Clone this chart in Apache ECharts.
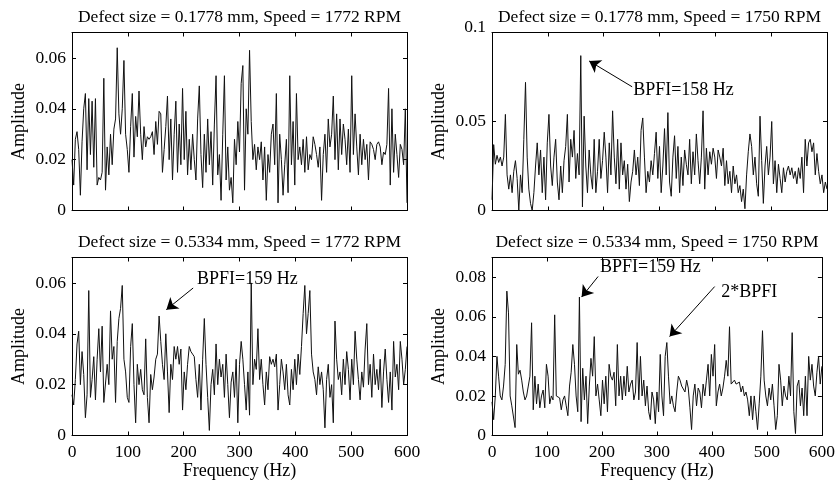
<!DOCTYPE html>
<html><head><meta charset="utf-8">
<script src="https://cdn.jsdelivr.net/npm/echarts@6/dist/echarts.min.js"></script>
<style>html,body{margin:0;padding:0;background:#fff}#c{width:838px;height:488px}</style>
</head><body><div id="c"></div>
<script>
// ---- data ----
const STEP = 3; // Hz between samples
const freqMin = 0, freqMax = 600, freqInterval = 100;
const titles = [
  'Defect size = 0.1778 mm, Speed = 1772 RPM',
  'Defect size = 0.1778 mm, Speed = 1750 RPM',
  'Defect size = 0.5334 mm, Speed = 1772 RPM',
  'Defect size = 0.5334 mm, Speed = 1750 RPM'
];
const yMax = [0.07, 0.1, 0.07, 0.09];
const yInterval = [0.02, 0.05, 0.02, 0.02];
const xLabel = 'Frequency (Hz)';
const yLabel = 'Amplitude';

const amp1 = [
 0.020,0.010,0.028,0.031,0.024,0.006,0.027,0.040,0.046,0.016,
 0.044,0.022,0.043,0.017,0.044,0.010,0.013,0.012,0.015,0.052,
 0.008,0.025,0.014,0.030,0.018,0.032,0.036,0.064,0.038,0.030,
 0.040,0.059,0.030,0.024,0.015,0.033,0.046,0.021,0.037,0.029,
 0.047,0.030,0.020,0.033,0.025,0.029,0.028,0.029,0.031,0.022,
 0.035,0.026,0.039,0.038,0.015,0.024,0.033,0.045,0.020,0.036,
 0.012,0.030,0.043,0.015,0.034,0.018,0.048,0.020,0.039,0.014,
 0.028,0.016,0.030,0.020,0.012,0.036,0.049,0.022,0.009,0.030,
 0.015,0.036,0.018,0.031,0.010,0.034,0.053,0.014,0.022,0.004,
 0.030,0.053,0.012,0.025,0.008,0.013,0.003,0.028,0.018,0.035,
 0.023,0.050,0.057,0.008,0.040,0.030,0.063,0.035,0.020,0.026,
 0.016,0.025,0.020,0.027,0.012,0.025,0.004,0.022,0.015,0.030,
 0.034,0.018,0.046,0.003,0.030,0.020,0.006,0.018,0.028,0.007,
 0.053,0.018,0.035,0.010,0.046,0.020,0.025,0.018,0.028,0.015,
 0.029,0.016,0.022,0.020,0.029,0.026,0.022,0.017,0.025,0.004,
 0.022,0.030,0.015,0.036,0.025,0.030,0.045,0.020,0.038,0.016,
 0.036,0.022,0.034,0.028,0.018,0.032,0.015,0.053,0.022,0.038,
 0.025,0.014,0.030,0.018,0.028,0.020,0.026,0.012,0.027,0.026,
 0.024,0.020,0.026,0.027,0.025,0.018,0.023,0.022,0.026,0.048,
 0.010,0.040,0.015,0.030,0.022,0.013,0.026,0.024,0.018,0.040,
 0.003];

const amp2 = [
 0.006,0.037,0.026,0.031,0.027,0.030,0.025,0.030,0.054,0.020,
 0.012,0.020,0.010,0.022,0.028,0.018,0.000,0.020,0.010,0.040,
 0.072,0.030,0.012,0.004,0.000,0.010,0.025,0.038,0.020,0.034,
 0.010,0.030,0.006,0.038,0.054,0.025,0.014,0.030,0.040,0.016,
 0.006,0.025,0.010,0.028,0.036,0.054,0.016,0.040,0.030,0.045,
 0.018,0.032,0.020,0.087,0.002,0.053,0.025,0.010,0.034,0.020,
 0.012,0.040,0.010,0.022,0.040,0.018,0.028,0.044,0.030,0.010,
 0.038,0.020,0.056,0.030,0.015,0.040,0.012,0.038,0.020,0.028,
 0.012,0.026,0.005,0.016,0.022,0.034,0.020,0.030,0.014,0.045,
 0.052,0.030,0.010,0.022,0.016,0.028,0.020,0.032,0.044,0.018,
 0.036,0.010,0.025,0.046,0.020,0.055,0.016,0.008,0.030,0.042,
 0.018,0.036,0.010,0.030,0.014,0.034,0.026,0.020,0.040,0.015,
 0.033,0.020,0.043,0.028,0.015,0.030,0.056,0.012,0.035,0.020,
 0.033,0.026,0.035,0.030,0.018,0.034,0.030,0.025,0.035,0.014,
 0.028,0.015,0.022,0.010,0.025,0.015,0.020,0.010,0.014,0.005,
 0.012,0.001,0.020,0.033,0.043,0.036,0.020,0.030,0.015,0.008,
 0.053,0.028,0.004,0.025,0.036,0.020,0.030,0.050,0.015,0.028,
 0.010,0.026,0.018,0.010,0.024,0.016,0.022,0.025,0.020,0.024,
 0.018,0.022,0.015,0.024,0.018,0.030,0.010,0.040,0.025,0.038,
 0.040,0.033,0.038,0.020,0.032,0.022,0.015,0.020,0.010,0.016,
 0.012];

const amp3 = [
 0.016,0.012,0.022,0.036,0.041,0.020,0.033,0.024,0.007,0.016,
 0.057,0.015,0.022,0.031,0.014,0.030,0.042,0.025,0.043,0.013,
 0.013,0.028,0.020,0.049,0.030,0.035,0.013,0.037,0.046,0.050,
 0.059,0.030,0.025,0.015,0.013,0.035,0.044,0.020,0.005,0.028,
 0.020,0.026,0.018,0.016,0.038,0.015,0.005,0.024,0.018,0.023,
 0.030,0.032,0.047,0.037,0.028,0.022,0.040,0.025,0.009,0.028,
 0.022,0.035,0.030,0.035,0.028,0.034,0.010,0.025,0.018,0.028,
 0.035,0.033,0.032,0.031,0.022,0.015,0.028,0.010,0.030,0.046,
 0.028,0.015,0.002,0.020,0.026,0.016,0.036,0.020,0.030,0.023,
 0.028,0.015,0.032,0.020,0.007,0.021,0.025,0.015,0.030,0.005,
 0.028,0.037,0.030,0.020,0.010,0.025,0.008,0.060,0.020,0.030,
 0.026,0.042,0.022,0.030,0.020,0.012,0.025,0.018,0.031,0.028,
 0.030,0.027,0.032,0.010,0.020,0.030,0.025,0.018,0.028,0.016,
 0.012,0.026,0.018,0.030,0.020,0.032,0.024,0.035,0.048,0.059,
 0.040,0.048,0.057,0.032,0.025,0.022,0.016,0.027,0.020,0.025,
 0.018,0.003,0.022,0.028,0.015,0.020,0.005,0.045,0.030,0.022,
 0.025,0.016,0.030,0.020,0.033,0.026,0.014,0.030,0.020,0.041,
 0.030,0.022,0.014,0.025,0.019,0.034,0.044,0.020,0.028,0.015,
 0.032,0.020,0.026,0.018,0.030,0.011,0.025,0.034,0.022,0.013,
 0.025,0.010,0.037,0.023,0.028,0.018,0.037,0.030,0.020,0.026,
 0.035];

const amp4 = [
 0.017,0.008,0.020,0.040,0.030,0.020,0.018,0.025,0.036,0.073,
 0.062,0.020,0.015,0.016,0.004,0.046,0.031,0.033,0.028,0.022,
 0.018,0.020,0.025,0.030,0.057,0.013,0.030,0.016,0.026,0.014,
 0.020,0.023,0.014,0.036,0.030,0.016,0.020,0.018,0.061,0.020,
 0.020,0.019,0.013,0.018,0.020,0.015,0.010,0.025,0.032,0.046,
 0.036,0.020,0.012,0.070,0.007,0.034,0.018,0.030,0.006,0.025,
 0.039,0.030,0.050,0.020,0.026,0.018,0.010,0.028,0.016,0.030,
 0.012,0.036,0.030,0.028,0.032,0.015,0.046,0.020,0.030,0.018,
 0.030,0.020,0.035,0.022,0.026,0.028,0.018,0.022,0.047,0.018,
 0.040,0.020,0.028,0.015,0.025,0.012,0.008,0.022,0.018,0.006,
 0.022,0.012,0.041,0.020,0.010,0.040,0.047,0.030,0.016,0.020,
 0.015,0.012,0.022,0.030,0.028,0.025,0.026,0.022,0.028,0.024,
 0.014,0.003,0.020,0.026,0.015,0.024,0.022,0.014,0.026,0.020,
 0.028,0.036,0.020,0.041,0.030,0.046,0.015,0.022,0.026,0.020,
 0.024,0.030,0.038,0.030,0.055,0.026,0.025,0.028,0.026,0.025,
 0.027,0.022,0.025,0.020,0.022,0.018,0.010,0.020,0.008,0.020,
 0.012,0.003,0.016,0.030,0.053,0.028,0.020,0.015,0.024,0.018,
 0.026,0.015,0.003,0.010,0.036,0.028,0.015,0.025,0.020,0.018,
 0.030,0.020,0.052,0.012,0.001,0.025,0.028,0.015,0.024,0.010,
 0.030,0.010,0.040,0.028,0.036,0.025,0.020,0.032,0.040,0.026,
 0.035];

const amplitudes = [amp1, amp2, amp3, amp4];

// annotations in data coordinates: [freq, amplitude]
const annotations = [
  [],
  [{ text: 'BPFI=158 Hz', at: [343, 0.0676], from: [251, 0.0695], to: [174, 0.0840] }],
  [{ text: 'BPFI=159 Hz', at: [314, 0.0616], from: [217, 0.0580], to: [169, 0.0495] }],
  [{ text: 'BPFI=159 Hz', at: [288, 0.0850], from: [193, 0.0804], to: [163, 0.0700] },
   { text: '2*BPFI', at: [468, 0.0724], from: [405, 0.0753], to: [323, 0.0500] }]
];

// ---- chart ----
const FONT = 'Liberation Serif';
const grids = [
  { left: 72, top: 32.5, width: 335, height: 178 },
  { left: 492, top: 32.5, width: 335, height: 178 },
  { left: 72, top: 257.5, width: 335, height: 178 },
  { left: 492, top: 257.5, width: 335, height: 178 }
];
const lineCol = '#000';
const tickStyle = { show: true, inside: true, length: 4, lineStyle: { color: lineCol, width: 1 } };
const axisLine = { show: true, onZero: false, lineStyle: { color: lineCol, width: 1 } };

const xAxis = [], yAxis = [], series = [];
grids.forEach((g, i) => {
  const bottomRow = i >= 2;
  xAxis.push({
    gridIndex: i, type: 'value', position: 'bottom', min: freqMin, max: freqMax, interval: freqInterval,
    axisLine, axisTick: tickStyle, splitLine: { show: false },
    axisLabel: { show: bottomRow, color: '#000', fontFamily: FONT, fontSize: 17.5, margin: 8 },
    name: bottomRow ? xLabel : '', nameLocation: 'middle', nameGap: 27,
    nameTextStyle: { color: '#000', fontFamily: FONT, fontSize: 18 }
  });
  xAxis.push({
    gridIndex: i, type: 'value', position: 'top', min: freqMin, max: freqMax, interval: freqInterval,
    axisLine, axisTick: tickStyle, splitLine: { show: false }, axisLabel: { show: false },
    name: titles[i], nameLocation: 'middle', nameGap: 6,
    nameTextStyle: { color: '#000', fontFamily: FONT, fontSize: 17.5, verticalAlign: 'bottom' }
  });
  yAxis.push({
    gridIndex: i, type: 'value', position: 'left', min: 0, max: yMax[i], interval: yInterval[i],
    axisLine, axisTick: tickStyle, splitLine: { show: false },
    axisLabel: {
      color: '#000', fontFamily: FONT, fontSize: 17.5, margin: 6, showMaxLabel: yMax[i] === 0.1,
      formatter: v => (Math.abs(v - 0.1) < 1e-9 ? '{top|0.1}' : String(+v.toFixed(4))),
      rich: { top: { fontFamily: FONT, fontSize: 17.5, color: '#000', padding: [0, 0, 11, 0] } }
    },
    name: yLabel, nameLocation: 'middle', nameGap: 44, nameRotate: 90,
    nameTextStyle: { color: '#000', fontFamily: FONT, fontSize: 18 }
  });
  yAxis.push({
    gridIndex: i, type: 'value', position: 'right', min: 0, max: yMax[i], interval: yInterval[i],
    axisLine, axisTick: tickStyle, splitLine: { show: false }, axisLabel: { show: false }
  });
  const ann = annotations[i];
  series.push({
    type: 'line', xAxisIndex: 2 * i, yAxisIndex: 2 * i,
    data: amplitudes[i].map((v, k) => [k * STEP, v]),
    showSymbol: false, symbol: 'none', silent: true,
    lineStyle: { color: '#111', width: 1 },
    markLine: ann.length ? {
      silent: true, animation: false,
      symbol: ['none', 'arrow'], symbolSize: 11,
      lineStyle: { color: '#000', width: 1, type: 'solid' },
      label: { show: false },
      data: ann.map(a => [{ coord: a.from }, { coord: a.to }])
    } : undefined,
    markPoint: ann.length ? {
      silent: true, animation: false, symbol: 'circle', symbolSize: 0,
      itemStyle: { color: 'transparent' },
      label: { show: true, position: 'inside', color: '#000', fontFamily: FONT, fontSize: 18 },
      data: ann.map(a => ({ coord: a.at, value: a.text, label: { formatter: a.text } }))
    } : undefined
  });
});

const chart = echarts.init(document.getElementById('c'), null, { renderer: 'canvas' });
chart.setOption({
  animation: false,
  backgroundColor: '#fff',
  grid: grids,
  xAxis, yAxis, series
});
</script>
</body></html>
